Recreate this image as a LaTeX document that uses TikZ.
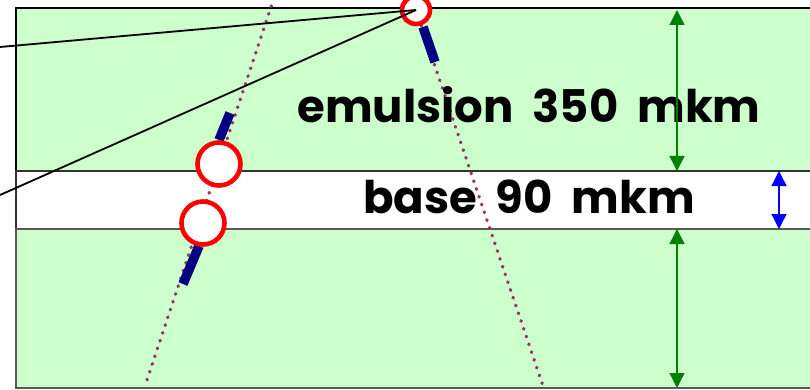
\documentclass[tikz,border=0pt]{standalone}
\usepackage{fontspec}
\setmainfont{Poppins}
\usetikzlibrary{arrows.meta}
\definecolor{emulgreen}{HTML}{CCFFCC}
\definecolor{trackred}{HTML}{993366}
\definecolor{segblue}{HTML}{000080}
\definecolor{arrgreen}{HTML}{008000}
\newcommand\layerfont{\bfseries\fontsize{45}{52}\selectfont\spaceskip=0.42em\relax}
\tikzset{
  hit/.style={circle,draw=red,fill=white,line width=4.6pt,inner sep=0pt,minimum size=#1},
  hit/.default=43pt,
  seg/.style={segblue,line width=9.5pt},
  track/.style={draw=trackred,line width=3.4pt,line cap=round,dash pattern=on 0.6pt off 7.6pt},
  gapline/.style={line width=1.3pt,{Triangle[width=15pt,length=15pt]}-{Triangle[width=15pt,length=15pt]}},
  label/.style={font=\layerfont,inner sep=0pt,anchor=base}
}
\begin{document}
\begin{tikzpicture}[x=1pt,y=-1pt]
  \useasboundingbox (0,0) rectangle (810,390);
  \filldraw[fill=emulgreen,draw=black,line width=1.3pt] (16,8) rectangle (814,171);
  \filldraw[fill=white,draw=black!80,line width=1.3pt] (16,171) rectangle (814,229);
  \filldraw[fill=emulgreen,draw=black!65,line width=1.3pt] (16,229) rectangle (814,388);

  \draw[track] (274,-2) -- (145,386);
  \draw[track] (416,10) -- (543,386);

  \node[label] (emul) at (529,123) {emulsion 350 mkm};
  \node[label] (base) at (529,213) {base 90 mkm};

  \draw[seg] (230,113) -- (219,140);
  \draw[seg] (199,246) -- (183,284);
  \draw[seg] (423,27) -- (435,62);
  \node[hit] (hitUp) at (219,164) {};
  \node[hit] (hitLow) at (203,223) {};
  \node[hit=28pt] (hitTop) at (416,10) {};

  \coordinate (lineA) at (0,47);
  \coordinate (lineB) at (0,195);
  \draw[line width=1.8pt] (hitTop.center) -- (lineA);
  \draw[line width=1.8pt] (hitTop.center) -- (lineB);

  \coordinate (emulTopA) at (677,10);
  \coordinate (emulTopB) at (677,171);
  \coordinate (emulLowA) at (677,229);
  \coordinate (emulLowB) at (677,388);
  \coordinate (baseA) at (779,171);
  \coordinate (baseB) at (779,229);
  \draw[gapline,arrgreen] (emulTopA) -- (emulTopB);
  \draw[gapline,arrgreen] (emulLowA) -- (emulLowB);
  \draw[gapline,blue] (baseA) -- (baseB);
\end{tikzpicture}
\end{document}
